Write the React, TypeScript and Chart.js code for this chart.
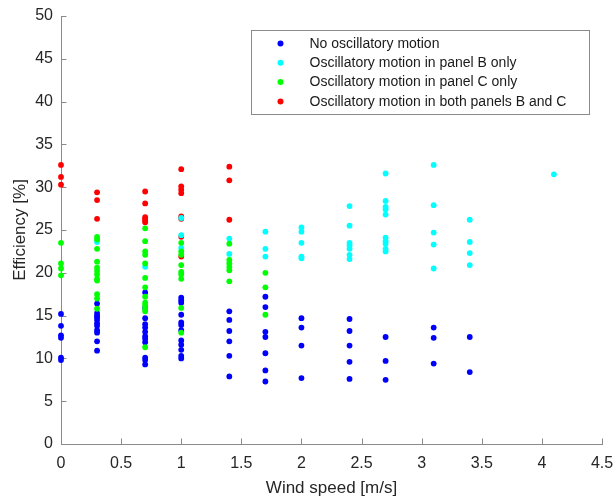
import React, { useEffect, useRef } from "react";
import { Chart, registerables } from "chart.js";

Chart.register(...registerables);

// Wind speeds at which measurements were taken [m/s]
const windSpeeds = [0, 0.3, 0.7, 1, 1.4, 1.7, 2, 2.4, 2.7, 3.1, 3.4, 4.1];

// Efficiency values [%] per wind speed (same order as windSpeeds)
const noOscillation: number[][] = [
  [15.2, 13.8, 12.7, 12.4, 10.1, 9.8],
  [16.4, 15.3, 15.0, 14.8, 14.5, 14.1, 13.8, 13.3, 13.0, 12.0, 10.9],
  [17.7, 15.9, 14.7, 14.0, 13.6, 13.1, 12.6, 12.3, 11.9, 10.1, 9.8, 9.3],
  [17.1, 16.8, 16.5, 15.1, 14.2, 13.9, 13.3, 12.1, 11.6, 11.0, 10.3, 10.0],
  [15.5, 14.5, 13.2, 12.0, 10.3, 7.9],
  [17.2, 16.0, 13.1, 12.5, 10.6, 8.6, 7.3],
  [14.7, 13.6, 11.5, 7.7],
  [14.6, 13.2, 11.5, 9.6, 7.6],
  [12.5, 9.7, 7.5],
  [13.6, 12.4, 9.4],
  [12.5, 8.4],
  [],
];

const panelBOnly: number[][] = [
  [],
  [23.6],
  [20.7],
  [26.4, 24.4, 22.9],
  [24.0, 22.2],
  [24.8, 22.8, 21.9],
  [25.3, 24.8, 23.5, 21.9, 21.7],
  [27.8, 25.5, 23.5, 23.2, 22.8, 22.1, 21.6],
  [31.6, 28.4, 27.7, 27.4, 26.8, 24.1, 23.7, 23.4, 22.8, 22.5],
  [32.6, 27.9, 24.7, 23.3, 20.5],
  [26.2, 23.6, 22.3, 20.9],
  [31.5],
];

const panelCOnly: number[][] = [
  [23.5, 21.1, 20.5, 19.7],
  [24.2, 23.9, 22.8, 21.3, 20.6, 20.2, 19.8, 19.3, 19.1, 17.5, 17.0, 15.8],
  [25.2, 23.7, 22.5, 22.1, 21.1, 19.4, 18.3, 17.2, 16.5, 16.2, 15.8, 15.5, 11.3],
  [23.5, 22.5, 22.1, 20.9, 20.1, 19.8, 19.3, 15.9, 13.0],
  [23.4, 21.5, 21.1, 20.7, 20.3, 19.0],
  [20.0, 18.3, 15.1],
  [],
  [],
  [],
  [],
  [],
  [],
];

const bothPanels: number[][] = [
  [32.6, 31.2, 30.3],
  [29.4, 28.5, 26.3],
  [29.5, 28.1, 26.5, 26.3, 26.1, 25.9],
  [32.1, 30.1, 29.7, 29.3, 26.6, 26.3, 24.2, 21.9],
  [32.4, 30.8, 26.2],
  [],
  [],
  [],
  [],
  [],
  [],
  [],
];

const seriesLabels = [
  "No oscillatory motion",
  "Oscillatory motion in panel B only",
  "Oscillatory motion in panel C only",
  "Oscillatory motion in both panels B and C",
];
const seriesColors = ["#0000ff", "#00ffff", "#00ff00", "#ff0000"];

const xTickValues = [0, 0.5, 1, 1.5, 2, 2.5, 3, 3.5, 4, 4.5];
const yTickValues = [0, 5, 10, 15, 20, 25, 30, 35, 40, 45, 50];

const FONT = "Arial, 'Liberation Sans', Helvetica, sans-serif";
const AXIS_COLOR = "#8a8a8a";
const TEXT_COLOR = "#262626";

function toPoints(values: number[][]) {
  const pts: { x: number; y: number }[] = [];
  windSpeeds.forEach((w, i) => {
    (values[i] || []).forEach((v) => pts.push({ x: w, y: v }));
  });
  return pts;
}

const inwardTicksPlugin = {
  id: "inwardTicks",
  beforeDatasetsDraw(chart: any) {
    const { ctx, chartArea, scales } = chart;
    const len = 5.5;
    ctx.save();
    ctx.strokeStyle = AXIS_COLOR;
    ctx.lineWidth = 1;
    ctx.beginPath();
    xTickValues.forEach((v) => {
      const px = Math.round(scales.x.getPixelForValue(v)) + 0.5;
      ctx.moveTo(px, chartArea.bottom);
      ctx.lineTo(px, chartArea.bottom - len);
    });
    yTickValues.forEach((v) => {
      const py = Math.round(scales.y.getPixelForValue(v)) + 0.5;
      ctx.moveTo(chartArea.left, py);
      ctx.lineTo(chartArea.left + len, py);
    });
    ctx.stroke();
    ctx.restore();
  },
};

const innerLegendPlugin = {
  id: "innerLegend",
  afterDraw(chart: any) {
    const { ctx, chartArea } = chart;
    const boxW = 338;
    const boxH = 84;
    const bx = Math.round(chartArea.right - 13 - boxW) + 0.5;
    const by = Math.round(chartArea.top + 14) + 0.5;
    ctx.save();
    ctx.fillStyle = "#ffffff";
    ctx.fillRect(bx, by, boxW, boxH);
    ctx.strokeStyle = AXIS_COLOR;
    ctx.lineWidth = 1;
    ctx.strokeRect(bx, by, boxW, boxH);
    ctx.font = `14px ${FONT}`;
    ctx.textBaseline = "middle";
    ctx.textAlign = "left";
    seriesLabels.forEach((label, i) => {
      const cy = by + 13 + i * 19.3;
      ctx.fillStyle = seriesColors[i];
      ctx.beginPath();
      ctx.arc(bx + 29, cy, 3, 0, Math.PI * 2);
      ctx.fill();
      ctx.fillStyle = "#1a1a1a";
      ctx.fillText(label, bx + 58, cy + 0.5);
    });
    ctx.restore();
  },
};

export default function App() {
  const canvasRef = useRef<HTMLCanvasElement | null>(null);

  useEffect(() => {
    document.body.style.margin = "0";
    const canvas = canvasRef.current;
    if (!canvas) return;
    const seriesValues = [noOscillation, panelBOnly, panelCOnly, bothPanels];
    const drawOrder = [3, 1, 0, 2];
    const chart = new Chart(canvas, {
      type: "scatter",
      data: {
        datasets: seriesValues.map((vals, i) => ({
          label: seriesLabels[i],
          data: toPoints(vals),
          backgroundColor: seriesColors[i],
          borderColor: seriesColors[i],
          borderWidth: 0,
          pointRadius: 2.9,
          pointHoverRadius: 2.9,
          order: drawOrder[i],
          clip: false,
        })),
      },
      options: {
        responsive: false,
        animation: false,
        events: [],
        layout: { padding: { top: 16, right: 13, left: 0, bottom: 0 } },
        plugins: {
          legend: { display: false },
          tooltip: { enabled: false },
        },
        scales: {
          x: {
            type: "linear",
            min: 0,
            max: 4.5,
            afterBuildTicks: (scale: any) => {
              scale.ticks = xTickValues.map((v) => ({ value: v }));
            },
            afterFit: (scale: any) => {
              scale.height = 53;
              scale.paddingLeft = 0;
              scale.paddingRight = 0;
            },
            grid: { display: false, drawTicks: false },
            border: { display: true, color: AXIS_COLOR, width: 1 },
            ticks: {
              autoSkip: false,
              maxRotation: 0,
              padding: 10,
              color: TEXT_COLOR,
              font: { family: FONT, size: 16 },
              callback: (v: any) => String(v),
            },
            title: {
              display: true,
              text: "Wind speed [m/s]",
              color: TEXT_COLOR,
              font: { family: FONT, size: 17, lineHeight: 1 },
              padding: { top: 0, bottom: 0.5 },
            },
          },
          y: {
            type: "linear",
            min: 0,
            max: 50,
            afterBuildTicks: (scale: any) => {
              scale.ticks = yTickValues.map((v) => ({ value: v }));
            },
            afterFit: (scale: any) => {
              scale.width = 61;
              scale.paddingTop = 0;
              scale.paddingBottom = 0;
            },
            grid: { display: false, drawTicks: false },
            border: { display: true, color: AXIS_COLOR, width: 1 },
            ticks: {
              autoSkip: false,
              padding: 8,
              color: TEXT_COLOR,
              font: { family: FONT, size: 16 },
              callback: (v: any) => String(v),
            },
            title: {
              display: true,
              text: "Efficiency [%]",
              color: TEXT_COLOR,
              font: { family: FONT, size: 17, lineHeight: 1 },
              padding: { top: 12, bottom: 0 },
            },
          },
        },
      },
      plugins: [inwardTicksPlugin, innerLegendPlugin],
    } as any);
    return () => chart.destroy();
  }, []);

  return (
    <canvas
      ref={canvasRef}
      width={615}
      height={497}
      style={{ display: "block", width: 615, height: 497 }}
    />
  );
}
